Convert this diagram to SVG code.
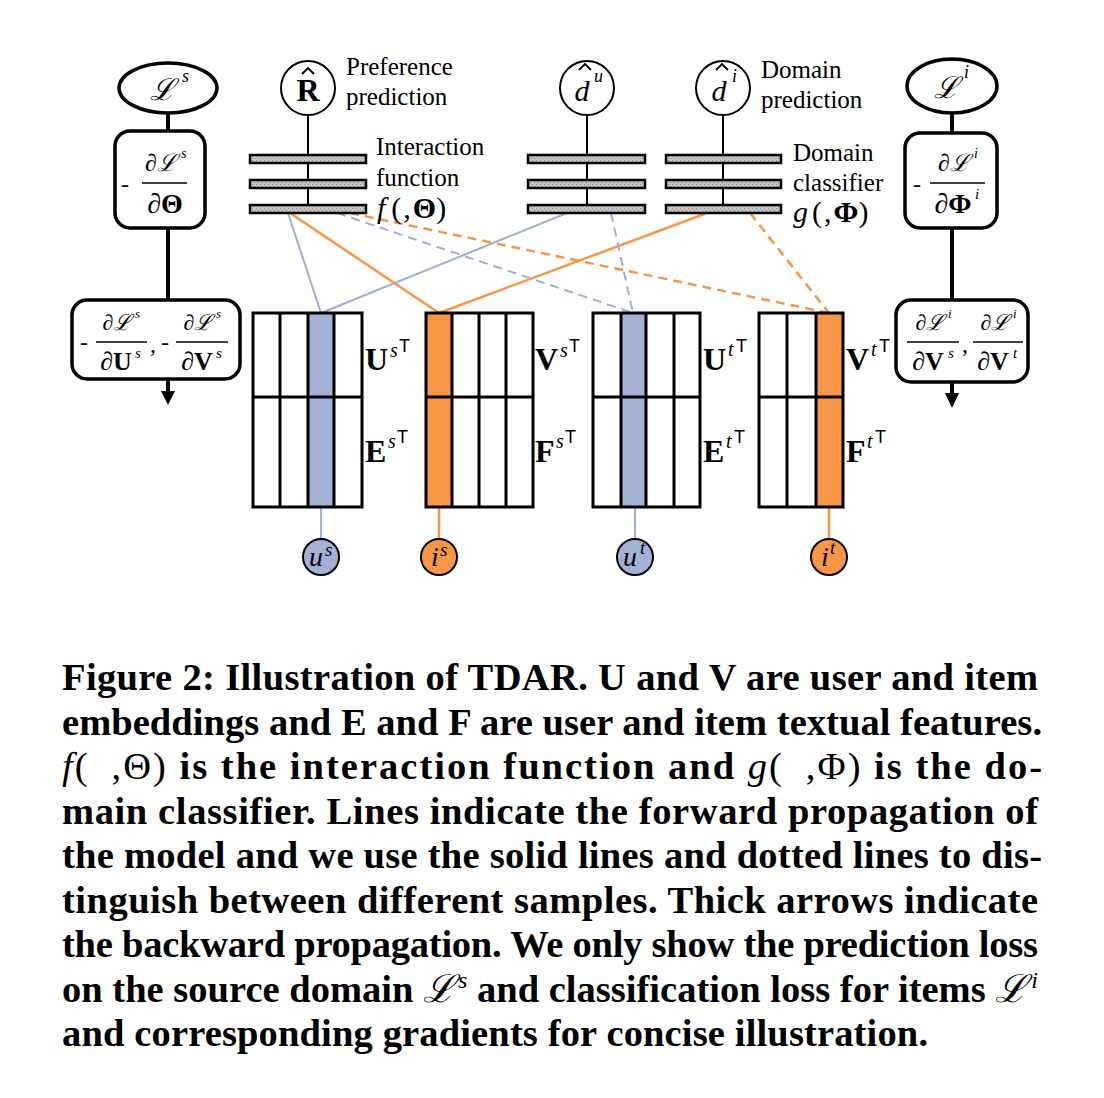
<svg xmlns="http://www.w3.org/2000/svg" width="1104" height="1098" viewBox="0 0 1104 1098">
<style>
.lbl{font-family:"Liberation Serif","DejaVu Serif",serif;font-size:25px;fill:#000}
.m{font-family:"Liberation Serif","DejaVu Serif",serif;fill:#000}
.it{font-style:italic}
.b{font-weight:bold}
.sans{font-family:"Liberation Sans",sans-serif}
.bar{fill:url(#speck);stroke:#000;stroke-width:2.5}
.thin{stroke:#000;stroke-width:2;fill:none}
.thick{stroke:#000;stroke-width:4;fill:none}
.box{fill:#fff;stroke:#000;stroke-width:3.5}
.frac{stroke:#000;stroke-width:1.5}
.hat{stroke:#000;stroke-width:1.8;fill:none}
.mx{fill:none;stroke:#000;stroke-width:3}
.blue{fill:#a3b1d5}
.orange{fill:#f79646}
.lb{stroke:#9fafd8;stroke-width:2;fill:none}
.lo{stroke:#f79646;stroke-width:2.5;fill:none}
.dash{stroke-dasharray:9,6}
.cap{font-family:"Liberation Serif","DejaVu Serif",serif;font-weight:bold;font-size:38.5px;fill:#000}
.nb{font-weight:normal}
</style>
<defs>
<pattern id="speck" width="4" height="4" patternUnits="userSpaceOnUse">
<rect width="4" height="4" fill="#c4c4c4"/>
<rect x="0" y="0" width="1" height="1" fill="#8a8a8a"/>
<rect x="2" y="2" width="1" height="1" fill="#8a8a8a"/>
</pattern>
</defs>
<rect width="1104" height="1098" fill="#fff"/>

<g id="connectors">
<line class="thick" x1="168" y1="113" x2="168" y2="131"/>
<line class="thick" x1="168" y1="228" x2="168" y2="300"/>
<line class="thick" x1="168" y1="379" x2="168" y2="392"/>
<path d="M161,391 L175,391 L168,405 Z" fill="#000"/>
<line class="thick" x1="952" y1="113" x2="952" y2="133"/>
<line class="thick" x1="952" y1="228" x2="952" y2="300"/>
<line class="thick" x1="952" y1="382" x2="952" y2="394"/>
<path d="M945,393 L959,393 L952,408 Z" fill="#000"/>
<line class="thin" x1="308" y1="115" x2="308" y2="207"/>
<line class="thin" x1="587" y1="115" x2="587" y2="207"/>
<line class="thin" x1="723" y1="115" x2="723" y2="207"/>
<line class="lb" x1="288" y1="213" x2="321" y2="313"/>
<line class="lb" x1="567" y1="213" x2="321" y2="313"/>
<line class="lo" x1="290" y1="213" x2="439" y2="313"/>
<line class="lo" x1="707" y1="213" x2="439" y2="313"/>
<line class="lb dash" x1="337" y1="213" x2="633" y2="313"/>
<line class="lb dash" x1="611" y1="213" x2="633" y2="313"/>
<line class="lo dash" x1="350" y1="213" x2="829" y2="313"/>
<line class="lo dash" x1="750" y1="213" x2="829" y2="313"/>
<line class="lb" x1="321" y1="507" x2="321" y2="539"/>
<line class="lo" x1="439" y1="507" x2="439" y2="539"/>
<line class="lb" x1="635" y1="507" x2="635" y2="539"/>
<line class="lo" x1="829" y1="507" x2="829" y2="539"/>
</g>

<g id="loss-s">
<ellipse cx="168" cy="88" rx="49" ry="25" fill="#fff" stroke="#000" stroke-width="3.5"/>
<text class="m it" x="162" y="100" font-size="30" text-anchor="middle">ℒ</text>
<text class="m it" x="182" y="82" font-size="18">s</text>
</g>

<g id="grad-theta">
<rect class="box" x="115" y="131" width="90" height="97" rx="15"/>
<text class="m" x="121" y="192" font-size="24">-</text>
<text class="m it" x="161" y="171" font-size="24" text-anchor="middle">∂ℒ</text>
<text class="m it" x="181" y="158" font-size="14">s</text>
<line class="frac" x1="142" y1="183" x2="187" y2="183"/>
<text class="m" x="165" y="213" font-size="28" text-anchor="middle"><tspan class="it">∂</tspan><tspan class="b">Θ</tspan></text>
</g>

<g id="grad-uv-s">
<rect class="box" x="72" y="300" width="168" height="79" rx="15"/>
<text class="m" x="80" y="350" font-size="24">-</text>
<text class="m it" x="117" y="330" font-size="22" text-anchor="middle">∂ℒ</text>
<text class="m it" x="135" y="318" font-size="13">s</text>
<line class="frac" x1="96" y1="342" x2="147" y2="342"/>
<text class="m" x="116" y="370" font-size="26" text-anchor="middle"><tspan class="it">∂</tspan><tspan class="b">U</tspan></text>
<text class="m it" x="135" y="358" font-size="15">s</text>
<text class="m" x="150" y="352" font-size="24">,</text>
<text class="m" x="161" y="350" font-size="24">-</text>
<text class="m it" x="198" y="330" font-size="22" text-anchor="middle">∂ℒ</text>
<text class="m it" x="216" y="318" font-size="13">s</text>
<line class="frac" x1="176" y1="342" x2="228" y2="342"/>
<text class="m" x="197" y="370" font-size="26" text-anchor="middle"><tspan class="it">∂</tspan><tspan class="b">V</tspan></text>
<text class="m it" x="216" y="358" font-size="15">s</text>
</g>

<g id="pred-R">
<circle cx="308" cy="88" r="27" fill="#fff" stroke="#000" stroke-width="2"/>
<text class="m b" x="308" y="101" font-size="32" text-anchor="middle">R</text>
<path class="hat" d="M302,74 L308,68 L314,74"/>
</g>
<text class="lbl" x="346" y="75">Preference</text>
<text class="lbl" x="346" y="105">prediction</text>

<g id="interaction-f">
<rect class="bar" x="250" y="155" width="116" height="8"/>
<rect class="bar" x="250" y="180" width="116" height="8"/>
<rect class="bar" x="250" y="205" width="116" height="8"/>
</g>
<text class="lbl" x="376" y="155">Interaction</text>
<text class="lbl" x="376" y="186">function</text>
<text class="m" x="377" y="218" font-size="30"><tspan class="it">f</tspan><tspan dx="6">(</tspan><tspan dx="2">,</tspan><tspan class="b" dx="2">Θ</tspan>)</text>

<g id="pred-du">
<circle cx="587" cy="88" r="27" fill="#fff" stroke="#000" stroke-width="2"/>
<text class="m it" x="582" y="101" font-size="30" text-anchor="middle">d</text>
<path class="hat" d="M579,70 L585,64 L591,70"/>
<text class="m it" x="594" y="82" font-size="18">u</text>
</g>
<g id="classifier-u">
<rect class="bar" x="528" y="155" width="117" height="8"/>
<rect class="bar" x="528" y="180" width="117" height="8"/>
<rect class="bar" x="528" y="205" width="117" height="8"/>
</g>

<g id="pred-di">
<circle cx="723" cy="88" r="27" fill="#fff" stroke="#000" stroke-width="2"/>
<text class="m it" x="719" y="101" font-size="30" text-anchor="middle">d</text>
<path class="hat" d="M716,70 L722,64 L728,70"/>
<text class="m it" x="732" y="82" font-size="18">i</text>
</g>
<text class="lbl" x="761" y="78">Domain</text>
<text class="lbl" x="761" y="108">prediction</text>
<g id="classifier-i">
<rect class="bar" x="666" y="155" width="115" height="8"/>
<rect class="bar" x="666" y="180" width="115" height="8"/>
<rect class="bar" x="666" y="205" width="115" height="8"/>
</g>
<text class="lbl" x="793" y="161">Domain</text>
<text class="lbl" x="793" y="191">classifier</text>
<text class="m" x="793" y="222" font-size="30"><tspan class="it">g</tspan><tspan dx="4">(</tspan><tspan dx="2">,</tspan><tspan class="b" dx="2">Φ</tspan>)</text>

<g id="loss-i">
<ellipse cx="952" cy="86" rx="45" ry="27" fill="#fff" stroke="#000" stroke-width="3.5"/>
<text class="m it" x="946" y="98" font-size="30" text-anchor="middle">ℒ</text>
<text class="m it" x="964" y="78" font-size="18">i</text>
</g>

<g id="grad-phi">
<rect class="box" x="905" y="133" width="92" height="95" rx="15"/>
<text class="m" x="913" y="192" font-size="24">-</text>
<text class="m it" x="954" y="171" font-size="24" text-anchor="middle">∂ℒ</text>
<text class="m it" x="974" y="158" font-size="14">i</text>
<line class="frac" x1="930" y1="183" x2="985" y2="183"/>
<text class="m" x="953" y="213" font-size="28" text-anchor="middle"><tspan class="it">∂</tspan><tspan class="b">Φ</tspan></text>
<text class="m it" x="975" y="199" font-size="15">i</text>
</g>

<g id="grad-v">
<rect class="box" x="896" y="300" width="132" height="82" rx="15"/>
<text class="m it" x="930" y="330" font-size="22" text-anchor="middle">∂ℒ</text>
<text class="m it" x="948" y="318" font-size="13">i</text>
<line class="frac" x1="907" y1="342" x2="959" y2="342"/>
<text class="m" x="928" y="370" font-size="26" text-anchor="middle"><tspan class="it">∂</tspan><tspan class="b">V</tspan></text>
<text class="m it" x="948" y="358" font-size="15">s</text>
<text class="m" x="962" y="352" font-size="24">,</text>
<text class="m it" x="995" y="330" font-size="22" text-anchor="middle">∂ℒ</text>
<text class="m it" x="1013" y="318" font-size="13">i</text>
<line class="frac" x1="973" y1="342" x2="1023" y2="342"/>
<text class="m" x="993" y="370" font-size="26" text-anchor="middle"><tspan class="it">∂</tspan><tspan class="b">V</tspan></text>
<text class="m it" x="1013" y="358" font-size="15">t</text>
</g>

<g id="matrix-us-es">
<rect class="blue" x="308" y="313" width="26" height="194"/>
<rect class="mx" x="253" y="313" width="109" height="194"/>
<path class="mx" d="M280,313V507M308,313V507M334,313V507M253,397H362"/>
<text class="m b" x="365" y="370" font-size="32">U</text>
<text class="m it" x="390" y="357" font-size="20">s</text>
<text class="sans" x="399" y="352" font-size="18">T</text>
<text class="m b" x="365" y="462" font-size="32">E</text>
<text class="m it" x="388" y="448" font-size="20">s</text>
<text class="sans" x="397" y="443" font-size="18">T</text>
</g>

<g id="matrix-vs-fs">
<rect class="orange" x="426" y="313" width="26" height="194"/>
<rect class="mx" x="426" y="313" width="107" height="194"/>
<path class="mx" d="M452,313V507M479,313V507M506,313V507M426,397H533"/>
<text class="m b" x="535" y="370" font-size="32">V</text>
<text class="m it" x="560" y="357" font-size="20">s</text>
<text class="sans" x="569" y="352" font-size="18">T</text>
<text class="m b" x="535" y="462" font-size="32">F</text>
<text class="m it" x="556" y="448" font-size="20">s</text>
<text class="sans" x="565" y="443" font-size="18">T</text>
</g>

<g id="matrix-ut-et">
<rect class="blue" x="621" y="313" width="25" height="194"/>
<rect class="mx" x="593" y="313" width="107" height="194"/>
<path class="mx" d="M621,313V507M646,313V507M674,313V507M593,397H700"/>
<text class="m b" x="703" y="370" font-size="32">U</text>
<text class="m it" x="728" y="356" font-size="20">t</text>
<text class="sans" x="736" y="352" font-size="18">T</text>
<text class="m b" x="703" y="462" font-size="32">E</text>
<text class="m it" x="726" y="448" font-size="20">t</text>
<text class="sans" x="734" y="443" font-size="18">T</text>
</g>

<g id="matrix-vt-ft">
<rect class="orange" x="816" y="313" width="27" height="194"/>
<rect class="mx" x="759" y="313" width="84" height="194"/>
<path class="mx" d="M787,313V507M816,313V507M759,397H843"/>
<text class="m b" x="846" y="370" font-size="32">V</text>
<text class="m it" x="871" y="356" font-size="20">t</text>
<text class="sans" x="879" y="352" font-size="18">T</text>
<text class="m b" x="846" y="462" font-size="32">F</text>
<text class="m it" x="867" y="448" font-size="20">t</text>
<text class="sans" x="875" y="443" font-size="18">T</text>
</g>

<g id="user-s">
<circle class="blue" cx="321" cy="557" r="18" stroke="#000" stroke-width="2"/>
<text class="m it" x="316" y="566" font-size="28" text-anchor="middle">u</text>
<text class="m it" x="325" y="556" font-size="19">s</text>
</g>
<g id="item-s">
<circle class="orange" cx="439" cy="557" r="18" stroke="#000" stroke-width="2"/>
<text class="m it" x="435" y="566" font-size="28" text-anchor="middle">i</text>
<text class="m it" x="440" y="556" font-size="19">s</text>
</g>
<g id="user-t">
<circle class="blue" cx="635" cy="557" r="18" stroke="#000" stroke-width="2"/>
<text class="m it" x="630" y="566" font-size="28" text-anchor="middle">u</text>
<text class="m it" x="640" y="554" font-size="19">t</text>
</g>
<g id="item-t">
<circle class="orange" cx="829" cy="557" r="18" stroke="#000" stroke-width="2"/>
<text class="m it" x="825" y="566" font-size="28" text-anchor="middle">i</text>
<text class="m it" x="830" y="554" font-size="19">t</text>
</g>

<g id="caption">
<text class="cap" x="62" y="690" textLength="976" lengthAdjust="spacing">Figure 2: Illustration of TDAR. U and V are user and item</text>
<text class="cap" x="62" y="735" textLength="980" lengthAdjust="spacing">embeddings and E and F are user and item textual features.</text>
<text class="cap" x="62" y="779" textLength="980" lengthAdjust="spacing"><tspan class="nb it">f</tspan><tspan class="nb">(</tspan><tspan class="nb" dx="22">,Θ)</tspan> is the interaction function and <tspan class="nb it">g</tspan><tspan class="nb">(</tspan><tspan class="nb" dx="22">,Φ)</tspan> is the do-</text>
<text class="cap" x="62" y="824" textLength="976" lengthAdjust="spacing">main classifier. Lines indicate the forward propagation of</text>
<text class="cap" x="62" y="868" textLength="980" lengthAdjust="spacing">the model and we use the solid lines and dotted lines to dis-</text>
<text class="cap" x="62" y="913" textLength="976" lengthAdjust="spacing">tinguish between different samples. Thick arrows indicate</text>
<text class="cap" x="62" y="957" textLength="976" lengthAdjust="spacing">the backward propagation. We only show the prediction loss</text>
<text class="cap" x="62" y="1002" textLength="976" lengthAdjust="spacing">on the source domain <tspan class="nb it">ℒ</tspan><tspan class="nb it" font-size="24" dx="3" dy="-14">s</tspan><tspan dy="14"> and classification loss for items </tspan><tspan class="nb it">ℒ</tspan><tspan class="nb it" font-size="24" dx="4" dy="-14">i</tspan></text>
<text class="cap" x="62" y="1046" textLength="866" lengthAdjust="spacing">and corresponding gradients for concise illustration.</text>
</g>
</svg>
